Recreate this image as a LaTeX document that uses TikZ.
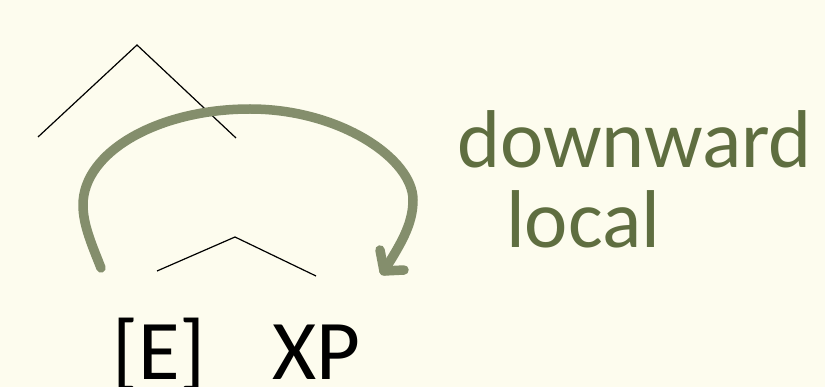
\documentclass[tikz,border=0pt]{standalone}
\usepackage{fontspec}
\setmainfont{Carlito}
\definecolor{paper}{HTML}{FDFCEE}
\definecolor{olive}{HTML}{5F6E40}
\definecolor{sage}{HTML}{848E6C}
\tikzset{
  branch/.style={draw=black, line width=1.2pt},
  bigarrow/.style={draw=sage, line width=9.5pt, line cap=round, line join=round},
  lbl/.style={inner sep=0pt, anchor=base west, font=\fontsize{85}{85}\selectfont},
  note/.style={inner sep=0pt, anchor=base west, text=olive, font=\fontsize{82}{82}\selectfont},
}
\begin{document}
\begin{tikzpicture}[x=1pt, y=-1pt]
  \fill[paper] (0,0) rectangle (825,387);
  \useasboundingbox (0,0) rectangle (825,387);

  % upper tree
  \coordinate (top)  at (137,45);
  \coordinate (topL) at (38,137);
  \coordinate (topR) at (236,138);
  \draw[branch] (topL) -- (top) -- (topR);

  % lower tree
  \coordinate (low)  at (235,237);
  \coordinate (lowL) at (157,271);
  \coordinate (lowR) at (316,276);
  \draw[branch] (lowL) -- (low) -- (lowR);

  % leaves
  \node[lbl] (E)  at (112,380) {[E]};
  \node[lbl] (XP) at (272,380) {XP};

  % annotations
  \node[note] (down)  at (457,168) {downward};
  \node[note] (local) at (506,248) {local};

  % curved arrow from [E] down to XP
  \coordinate (start) at (101,268);
  \coordinate (west)  at (83,205);
  \coordinate (apex)  at (250,109);
  \coordinate (east)  at (413,200);
  \coordinate (tip)   at (384,271);
  \coordinate (barbA) at (380,250);
  \coordinate (barbB) at (404,270);
  \draw[bigarrow] (start) .. controls (92,245) and (83,225) .. (west)
                          .. controls (83,152) and (158,109) .. (apex)
                          .. controls (340,109) and (413,159) .. (east)
                          .. controls (413,225) and (400,245) .. (tip);
  \draw[bigarrow] (barbA) -- (tip) -- (barbB);
\end{tikzpicture}
\end{document}
